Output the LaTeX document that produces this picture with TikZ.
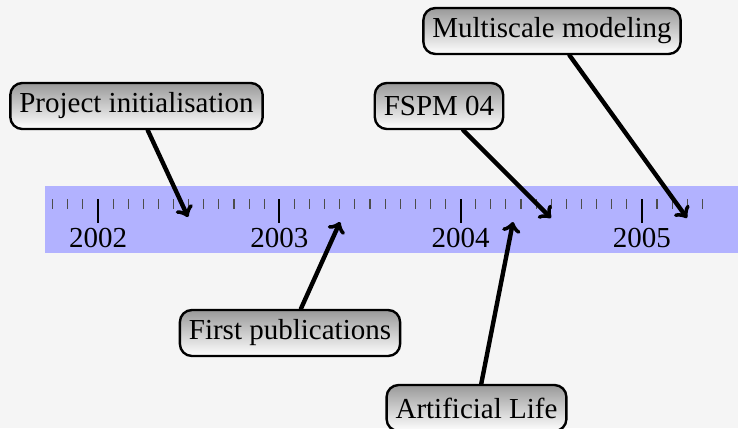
\documentclass[tikz,border=0pt]{standalone}
\usepackage{fontspec}
\setmainfont{Liberation Serif}
\begin{document}
\begin{tikzpicture}[x=0.5pt,y=-0.5pt,
  event/.style={draw=black, line width=1.2pt, rounded corners=6pt,
    top color=black!40, bottom color=white,
    font=\fontsize{14.5}{16}\selectfont, inner xsep=4.5pt, inner ysep=0pt,
    minimum height=23pt},
  pointer/.style={->, line width=2.2pt, line cap=round},
  year/.style={font=\fontsize{14.5}{16}\selectfont, inner sep=0pt},
  minortick/.style={black!70, line width=0.55pt},
  majortick/.style={black, line width=1pt}]
  % canvas
  \fill[black!4] (0,0) rectangle (738,428);
  \useasboundingbox (0,0) rectangle (738,428);
  % time band
  \fill[blue!30] (45,186) rectangle (738,253);
  % monthly ticks, one year = 181.3 units
  \foreach \m in {-3,...,40} {
    \pgfmathsetmacro{\tx}{98+\m*181.3/12}
    \pgfmathtruncatemacro{\r}{mod(\m+36,12)}
    \ifnum\r=0
      \draw[majortick] (\tx,199) -- (\tx,223);
    \else
      \draw[minortick] (\tx,199) -- (\tx,209);
    \fi
  }
  % year labels
  \node[year] (y2002) at (98,238) {2002};
  \node[year] (y2003) at (279.3,238) {2003};
  \node[year] (y2004) at (460.6,238) {2004};
  \node[year] (y2005) at (641.9,238) {2005};
  % events
  \node[event] (init)  at (136.5,106) {Project initialisation};
  \node[event] (multi) at (552,31) {Multiscale modeling};
  \node[event] (fspm)  at (439,106) {FSPM 04};
  \node[event] (pubs)  at (290,333) {First publications};
  \node[event] (alife) at (476.5,408) {Artificial Life};
  % points on the time axis
  \coordinate (tinit)  at (188,217);
  \coordinate (tmulti) at (687,218);
  \coordinate (tfspm)  at (551,218);
  \coordinate (tpubs)  at (340,222);
  \coordinate (talife) at (513,222);
  \draw[pointer] (init)  -- (tinit);
  \draw[pointer] (multi) -- (tmulti);
  \draw[pointer] (fspm)  -- (tfspm);
  \draw[pointer] (pubs)  -- (tpubs);
  \draw[pointer] (alife) -- (talife);
\end{tikzpicture}
\end{document}
